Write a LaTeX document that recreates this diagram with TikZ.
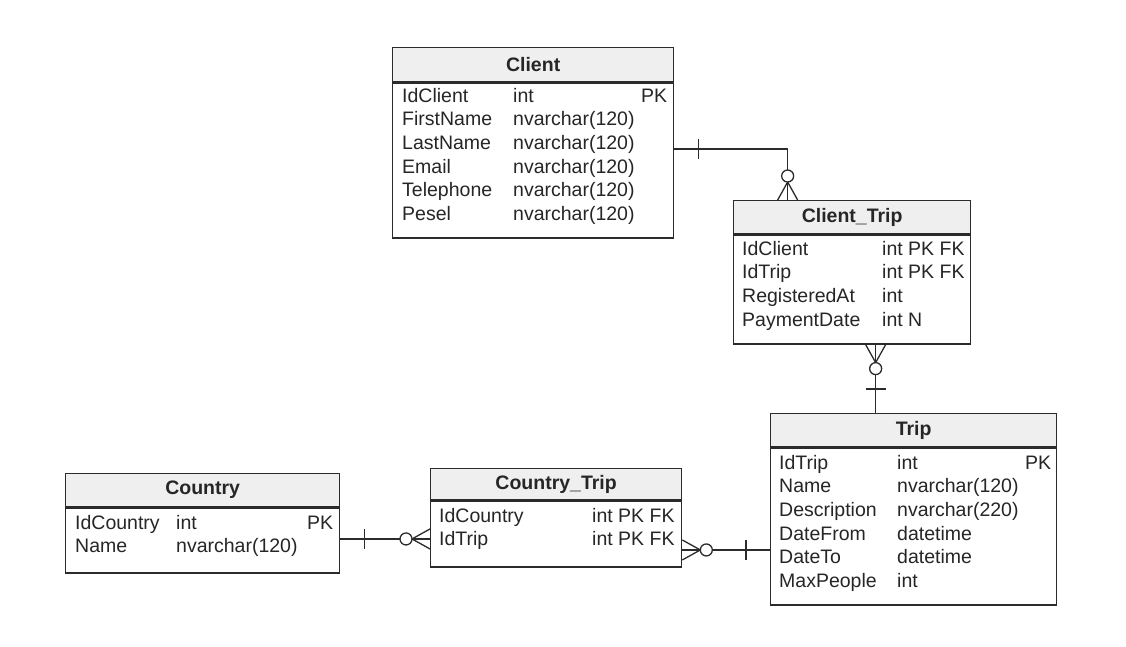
\documentclass[tikz,border=0pt]{standalone}
\usepackage{fontspec}
\setmainfont{Liberation Sans}
\usepackage{xcolor}
\definecolor{cHead}{HTML}{EFEFEF}
\definecolor{cLine}{HTML}{2B2B2B}
\definecolor{cText}{HTML}{262626}
\usepackage{tikz}
\usetikzlibrary{calc}
\newcommand{\rowfont}{\fontsize{19.5}{23.6}\selectfont}
\tikzset{
  hdr/.style  = {rectangle, draw=cLine, line width=1.3pt, fill=cHead,
                 minimum width=#1, minimum height=33pt, anchor=north west,
                 inner sep=0pt, font=\rowfont\bfseries, text=cText},
  bdy/.style 2 args = {rectangle, draw=cLine, line width=1.3pt, fill=white,
                 minimum width=#1, minimum height=#2, anchor=north west,
                 inner sep=0pt},
  fld/.style  = {anchor=north west, inner sep=0pt, font=\rowfont, text=cText},
  conn/.style = {draw=cLine, line width=1.3pt},
  barone/.pic   = {\draw[conn] (24,-10) -- (24,10);},
  crowzero/.pic = {\draw[conn] (0,-10) -- (18,0) -- (0,10);
                   \draw[conn, fill=white] (24,0) circle (6);},
}

\begin{document}
\begin{tikzpicture}[x=1pt, y=-1pt]
  \useasboundingbox (0,0) rectangle (1126,646);

  %% Client
  \node[hdr=281pt, minimum height=34pt] (client) at (392,47) {Client};
  \node[bdy={281pt}{155pt}] (clientB) at (client.south west) {};
  \node[fld] (clientF) at (402,85.5)
        {\begin{tabular}{@{}p{111pt}@{}p{154pt}@{}}
         IdClient  & int\hfill PK\\
         FirstName & nvarchar(120)\\
         LastName  & nvarchar(120)\\
         Email     & nvarchar(120)\\
         Telephone & nvarchar(120)\\
         Pesel     & nvarchar(120)
         \end{tabular}};

  %% Client_Trip
  \node[hdr=237pt] (clitrip) at (733,200) {Client\_Trip};
  \node[bdy={237pt}{109pt}] (clitripB) at (clitrip.south west) {};
  \node[fld] (clitripF) at (742,238.5)
        {\begin{tabular}{@{}p{140pt}@{}p{86pt}@{}}
         IdClient     & int PK FK\\
         IdTrip       & int PK FK\\
         RegisteredAt & int\\
         PaymentDate  & int N
         \end{tabular}};

  %% Trip
  \node[hdr=286pt] (trip) at (770,413) {Trip};
  \node[bdy={286pt}{157pt}] (tripB) at (trip.south west) {};
  \node[fld] (tripF) at (779,452.5)
        {\begin{tabular}{@{}p{118pt}@{}p{154pt}@{}}
         IdTrip      & int\hfill PK\\
         Name        & nvarchar(120)\\
         Description & nvarchar(220)\\
         DateFrom    & datetime\\
         DateTo      & datetime\\
         MaxPeople   & int
         \end{tabular}};

  %% Country
  \node[hdr=274pt] (country) at (65,473) {Country};
  \node[bdy={274pt}{65pt}] (countryB) at (country.south west) {};
  \node[fld] (countryF) at (75,512.5)
        {\begin{tabular}{@{}p{101pt}@{}p{157pt}@{}}
         IdCountry & int\hfill PK\\
         Name      & nvarchar(120)
         \end{tabular}};

  %% Country_Trip
  \node[hdr=251pt, minimum height=31pt] (ctrytrip) at (430,468) {Country\_Trip};
  \node[bdy={251pt}{66pt}] (ctrytripB) at (ctrytrip.south west) {};
  \node[fld] (ctrytripF) at (439,505.5)
        {\begin{tabular}{@{}p{153pt}@{}p{86pt}@{}}
         IdCountry & int PK FK\\
         IdTrip    & int PK FK
         \end{tabular}};

  %% Relations
  \draw[conn] ([yshift=11.5pt]clientB.east) -| ([xshift=-64.5pt]clitrip.north);
  \pic at ([yshift=11.5pt]clientB.east) {barone};
  \pic[rotate=90] at ([xshift=-64.5pt]clitrip.north) {crowzero};

  \draw[conn] ([xshift=23.5pt]clitripB.south) -- ([xshift=-38pt]trip.north);
  \pic[rotate=-90] at ([xshift=23.5pt]clitripB.south) {crowzero};
  \pic[rotate=90] at ([xshift=-38pt]trip.north) {barone};

  \draw[conn] ([yshift=1.5pt]countryB.east) -- ([yshift=-5pt]ctrytripB.west);
  \pic at ([yshift=1.5pt]countryB.east) {barone};
  \pic[rotate=180] at ([yshift=-5pt]ctrytripB.west) {crowzero};

  \draw[conn] ([yshift=-16pt]ctrytripB.east) -- ([yshift=-23.5pt]tripB.west);
  \pic at ([yshift=-16pt]ctrytripB.east) {crowzero};
  \pic[rotate=180] at ([yshift=-23.5pt]tripB.west) {barone};

\end{tikzpicture}
\end{document}
